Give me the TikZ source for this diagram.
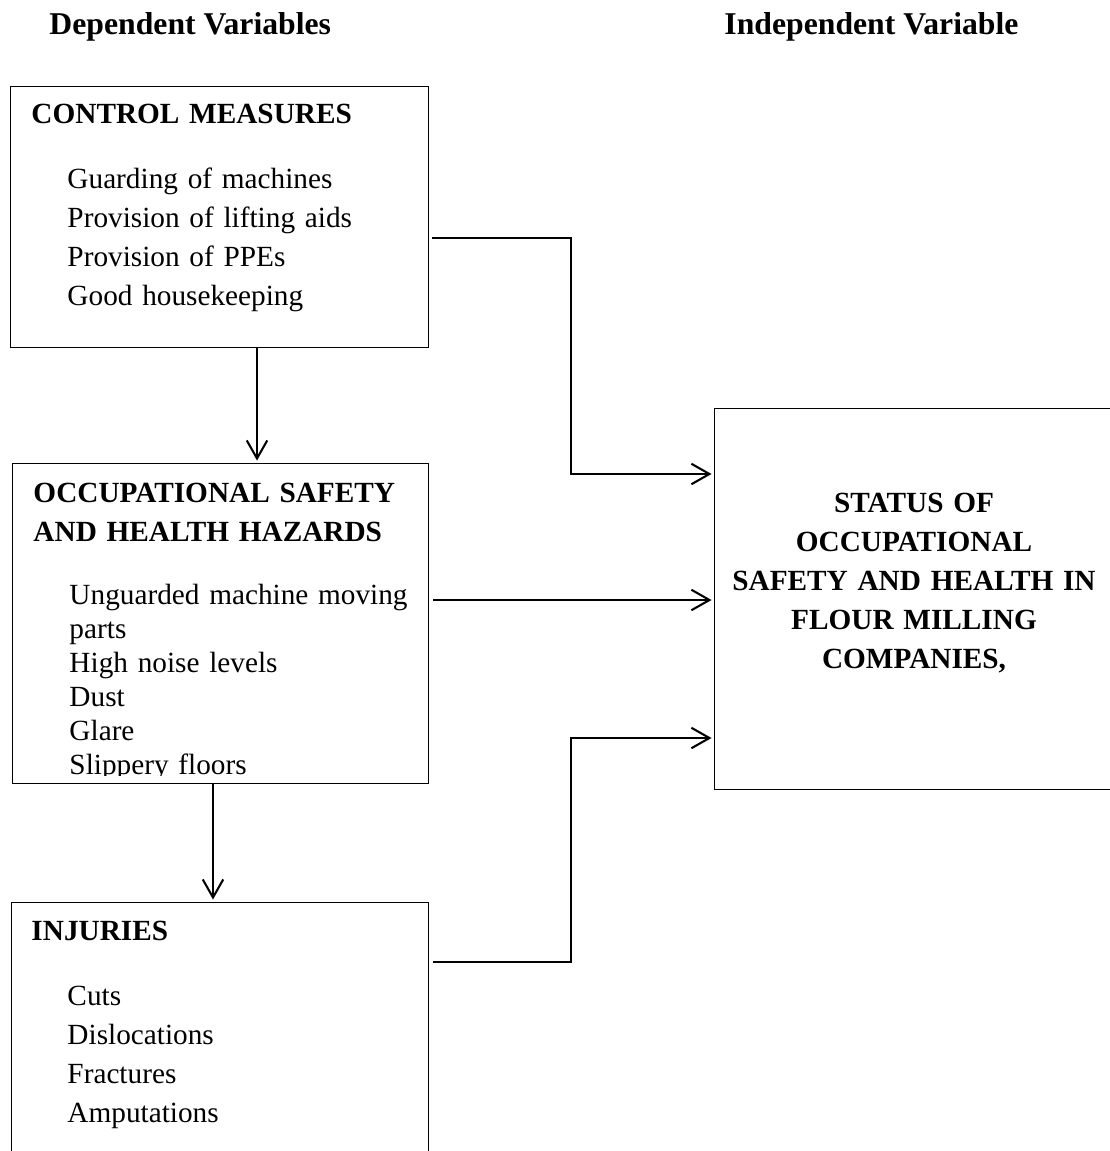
\documentclass[tikz,border=0pt]{standalone}
\usepackage{fontspec}
\setmainfont{Liberation Serif}
\usetikzlibrary{arrows.meta,positioning}
\newcommand{\pxl}{0.41pt}

\begin{document}
\begin{tikzpicture}[x=0.41pt,y=-0.41pt,->,>={Straight Barb[length=7.4pt,width=8.4pt]},shorten >=1pt,
    box/.style={draw,rectangle,line width=0.55pt,inner sep=0pt,anchor=north west},
    headline/.style={inner sep=0pt,anchor=base west,font=\fontsize{13}{15}\selectfont\bfseries},
    title/.style={inner sep=0pt,anchor=base west,text width=200pt,align=left,font=\fontsize{12}{16.1}\selectfont\bfseries},
    list/.style={inner sep=0pt,anchor=base west,text width=180pt,align=left,font=\fontsize{12}{16}\selectfont},
    link/.style={line width=0.85pt}]

    \useasboundingbox (0,0) rectangle (1110,1151);

    \node[headline] (dep) at (49,35) {Dependent Variables};
    \node[headline] (indep) at (724,35) {Independent Variable};

    % left column
    \node[box, minimum width=418*\pxl, minimum height=261*\pxl] (cm) at (10,86) {};
    \node[title] (cmT) at (31,123) {CONTROL MEASURES};
    \node[list] (cmL) at (67,188) {Guarding of machines\\Provision of lifting aids\\Provision of PPEs\\Good housekeeping};

    \node[box, minimum width=416*\pxl, minimum height=320*\pxl] (hz) at (12,463) {};
    \node[title] (hzT) at (33,502) {OCCUPATIONAL SAFETY\\AND HEALTH HAZARDS};
    \begin{scope}
        \clip (hz.north west) rectangle ([yshift=9*\pxl]hz.south east);
        \node[list, font=\fontsize{12}{14}\selectfont] (hzL) at (69,604) {Unguarded machine moving\\parts\\High noise levels\\Dust\\Glare\\Slippery floors};
    \end{scope}

    \node[box, minimum width=417*\pxl, minimum height=300*\pxl] (inj) at (11,902) {};
    \node[title] (injT) at (31,940) {INJURIES};
    \node[list] (injL) at (67,1005) {Cuts\\Dislocations\\Fractures\\Amputations};

    % right box
    \node[box, minimum width=400*\pxl, minimum height=381*\pxl] (st) at (714,408) {};
    \node[title, anchor=base, text width=170pt, align=center, font=\fontsize{12}{16}\selectfont\bfseries] (stT) at (914,512)
        {STATUS OF\\OCCUPATIONAL\\SAFETY AND HEALTH IN\\FLOUR MILLING\\COMPANIES,};

    \path[link]
        (cm.south -| 257,0) edge (hz.north -| 257,0)
        (hz.south -| 213,0) edge (inj.north -| 213,0)
        (hz.east |- 0,600) edge[shorten <=1.5pt] (st.west |- 0,600)
        ;
    \draw[link, shorten <=1pt] (cm.east |- 0,238) -- (571,238) |- (st.west |- 0,474);
    \draw[link, shorten <=1.5pt] (inj.east |- 0,962) -- (571,962) |- (st.west |- 0,738);
\end{tikzpicture}
\end{document}
